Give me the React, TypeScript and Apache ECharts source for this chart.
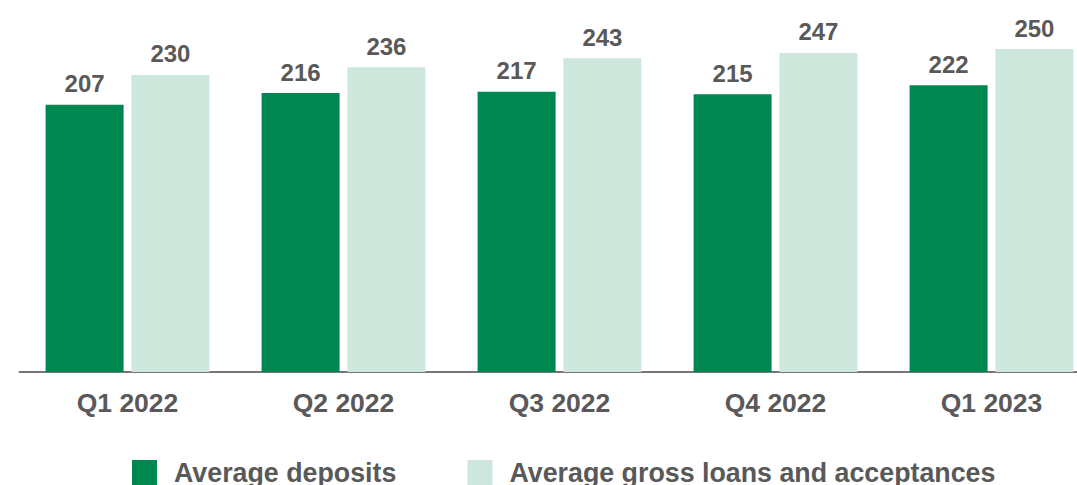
import React, { useEffect, useRef } from "react";
import * as echarts from "echarts";

const categories = ["Q1 2022", "Q2 2022", "Q3 2022", "Q4 2022", "Q1 2023"];
const averageDeposits = [207, 216, 217, 215, 222];
const averageLoans = [230, 236, 243, 247, 250];

const FONT = "'Liberation Sans', Arial, sans-serif";
const TEXT = "#595959";

export default function App() {
  const ref = useRef<HTMLDivElement>(null);
  useEffect(() => {
    if (!ref.current) return;
    const chart = echarts.init(ref.current, undefined, { renderer: "svg" });
    const label = {
      show: true,
      position: "top",
      distance: 9,
      color: TEXT,
      fontFamily: FONT,
      fontWeight: "bold",
      fontSize: 24,
    };
    chart.setOption({
      animation: false,
      backgroundColor: "#ffffff",
      grid: { left: 19.5, right: 0.5, top: 0, bottom: 113, containLabel: false },
      legend: {
        left: 132,
        top: 459,
        padding: 0,
        itemWidth: 25,
        itemHeight: 25,
        itemGap: 71,
        icon: "rect",
        textStyle: {
          color: TEXT,
          fontFamily: FONT,
          fontWeight: "bold",
          fontSize: 26.8,
          padding: [0, 0, 0, 12],
        },
        data: ["Average deposits", "Average gross loans and acceptances"],
      },
      xAxis: {
        type: "category",
        data: categories,
        axisLine: { show: true, lineStyle: { color: "#767676", width: 2 } },
        axisTick: { show: false },
        axisLabel: {
          color: TEXT,
          fontFamily: FONT,
          fontWeight: "bold",
          fontSize: 26.5,
          margin: 17,
        },
      },
      yAxis: {
        type: "value",
        min: 0,
        max: 288,
        show: false,
        splitLine: { show: false },
      },
      series: [
        {
          name: "Average deposits",
          type: "bar",
          data: averageDeposits,
          barWidth: 78,
          barGap: "10%",
          itemStyle: { color: "#008751" },
          label,
        },
        {
          name: "Average gross loans and acceptances",
          type: "bar",
          data: averageLoans,
          barWidth: 78,
          barGap: "10%",
          itemStyle: { color: "#CDE7DC" },
          label,
        },
      ],
    });
    return () => chart.dispose();
  }, []);
  return (
    <div
      style={{ position: "fixed", left: 0, top: 0, width: 1077, height: 485, overflow: "hidden", background: "#fff" }}
    >
      <div ref={ref} style={{ width: 1100, height: 485 }} />
    </div>
  );
}
